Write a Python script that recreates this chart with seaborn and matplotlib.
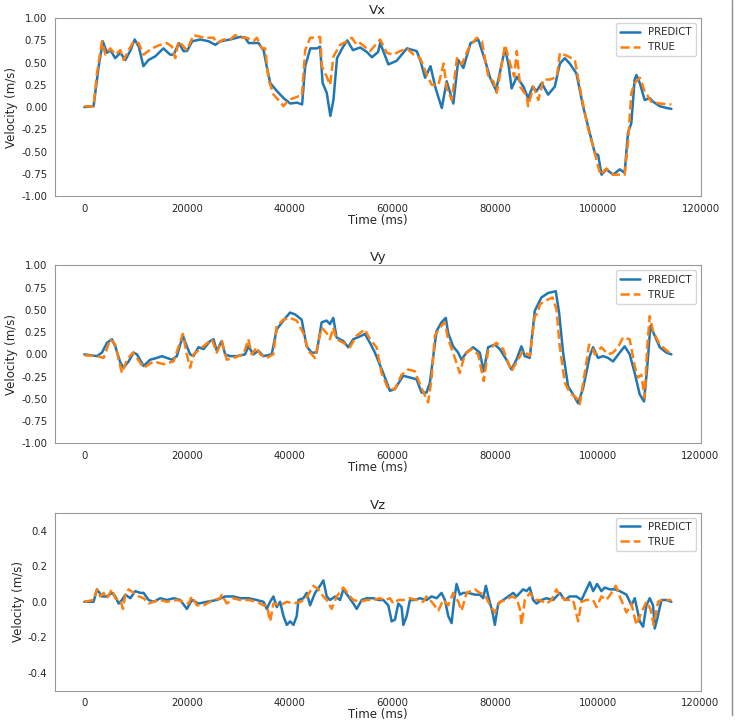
import numpy as np
import seaborn as sns
import matplotlib as mpl
mpl.use('Agg')
import matplotlib.pyplot as plt
from matplotlib.lines import Line2D

# (time in ms, velocity in m/s)
vx_pred = [(0, 0.00), (1800, 0.01), (2800, 0.46), (3600, 0.74), (4400, 0.61), (5100, 0.64), (6000, 0.55),
           (7000, 0.61), (8000, 0.53), (9000, 0.64), (9800, 0.76), (10600, 0.68), (11500, 0.46), (12500, 0.53),
           (13800, 0.57), (15400, 0.66), (16700, 0.59), (17400, 0.59), (18400, 0.72), (19300, 0.63), (20000, 0.63),
           (21000, 0.74), (22600, 0.76), (24200, 0.74), (25500, 0.70), (26500, 0.74), (28400, 0.76), (30400, 0.79),
           (31300, 0.78), (32000, 0.72), (33900, 0.72), (34900, 0.64), (35500, 0.46), (36200, 0.27), (37500, 0.18),
           (38800, 0.10), (40100, 0.04), (41400, 0.05), (42400, 0.03), (43000, 0.46), (44000, 0.66), (45300, 0.66),
           (45900, 0.68), (46400, 0.27), (47200, 0.16), (47900, -0.10), (48500, 0.08), (49200, 0.55), (50400, 0.68),
           (51200, 0.75), (52300, 0.64), (53700, 0.67), (55000, 0.62), (56000, 0.56), (57200, 0.62), (57600, 0.72),
           (59200, 0.48), (60800, 0.52), (62800, 0.66), (64700, 0.63), (65400, 0.53), (66350, 0.33), (67400, 0.46),
           (68400, 0.21), (69600, -0.01), (70550, 0.29), (71850, 0.04), (72800, 0.53), (73800, 0.44), (75200, 0.72),
           (76700, 0.76), (78000, 0.53), (79000, 0.33), (80150, 0.19), (80950, 0.40), (81900, 0.66), (82550, 0.49),
           (83200, 0.21), (84200, 0.34), (85500, 0.23), (86400, 0.10), (87300, 0.23), (88050, 0.18), (89050, 0.27),
           (90300, 0.14), (91600, 0.23), (92600, 0.49), (93550, 0.55), (94500, 0.49), (95800, 0.38), (97100, 0.01),
           (98400, -0.29), (99400, -0.52), (100050, -0.54), (100700, -0.76), (101650, -0.70), (102950, -0.76),
           (104250, -0.70), (105200, -0.74), (105850, -0.29), (106500, -0.18), (107150, 0.31), (107500, 0.36),
           (108150, 0.27), (109100, 0.08), (110100, 0.10), (110750, 0.06), (112050, 0.01), (113350, -0.01),
           (114300, -0.02)]
vx_true = [(0, 0.01), (1800, 0.01), (2460, 0.38), (3440, 0.74), (4100, 0.59), (5060, 0.66), (6030, 0.59),
           (7000, 0.64), (7650, 0.53), (8620, 0.64), (9600, 0.74), (10570, 0.72), (11540, 0.59), (13160, 0.66),
           (14790, 0.70), (16080, 0.72), (17060, 0.68), (17700, 0.55), (18350, 0.74), (19330, 0.68), (19970, 0.64),
           (21270, 0.81), (22570, 0.79), (23860, 0.78), (25160, 0.78), (25810, 0.72), (27100, 0.76), (28400, 0.76),
           (29380, 0.81), (30350, 0.78), (31650, 0.78), (32940, 0.74), (33590, 0.78), (34560, 0.66), (35210, 0.66),
           (35860, 0.31), (36830, 0.14), (37800, 0.08), (38780, 0.01), (39750, 0.08), (40730, 0.10), (41700, 0.12),
           (42350, 0.12), (43000, 0.64), (43970, 0.78), (45270, 0.78), (45910, 0.79), (46240, 0.46), (47210, 0.34),
           (47860, 0.25), (48510, 0.57), (49800, 0.70), (51100, 0.74), (52070, 0.78), (53050, 0.70), (53700, 0.72),
           (55650, 0.63), (57600, 0.76), (58900, 0.61), (60200, 0.59), (61500, 0.63), (62800, 0.66), (64100, 0.59),
           (65400, 0.55), (66700, 0.36), (67650, 0.25), (68950, 0.25), (69950, 0.49), (70550, 0.21), (71550, 0.08),
           (72550, 0.55), (73500, 0.48), (74800, 0.66), (76400, 0.78), (77400, 0.74), (78700, 0.33), (79650, 0.29),
           (80300, 0.16), (81300, 0.49), (81900, 0.70), (82900, 0.49), (83700, 0.34), (84200, 0.63), (84850, 0.23),
           (86150, 0.12), (86400, 0.01), (87450, 0.23), (88400, 0.08), (89400, 0.31), (90700, 0.31), (92000, 0.34),
           (92600, 0.61), (94200, 0.57), (95500, 0.53), (96800, 0.12), (98100, -0.25), (99050, -0.44),
           (100050, -0.67), (100500, -0.76), (101650, -0.69), (102950, -0.76), (103900, -0.76), (105200, -0.76),
           (105850, -0.40), (106500, 0.16), (107150, 0.27), (108150, 0.33), (109100, 0.18), (110400, 0.06),
           (112050, 0.04), (114300, 0.03)]

vy_pred = [(0, 0.00), (2460, -0.02), (3440, 0.02), (4410, 0.13), (5380, 0.17), (6030, 0.09), (7000, -0.09),
           (7650, -0.15), (8620, -0.08), (9600, 0.02), (10250, 0.00), (11540, -0.13), (12840, -0.06), (14140, -0.04),
           (15110, -0.02), (16080, -0.04), (17060, -0.06), (18030, -0.02), (19200, 0.21), (19970, 0.09),
           (20620, 0.00), (21270, -0.02), (22240, 0.08), (23220, 0.06), (24510, 0.15), (25160, 0.17), (25810, 0.04),
           (26780, 0.15), (27430, 0.00), (28400, -0.02), (29700, -0.02), (31320, 0.00), (31970, 0.09), (32940, 0.00),
           (33910, 0.04), (34890, -0.02), (36510, 0.00), (37480, 0.28), (38780, 0.38), (40080, 0.47), (41050, 0.45),
           (42350, 0.39), (43320, 0.09), (44290, 0.02), (45270, 0.02), (46240, 0.36), (47210, 0.38), (47860, 0.34),
           (48510, 0.41), (49150, 0.19), (50450, 0.15), (51420, 0.08), (52400, 0.17), (54020, 0.21), (54670, 0.23),
           (55650, 0.13), (56620, 0.02), (58240, -0.21), (59540, -0.41), (60510, -0.39), (62130, -0.24),
           (63430, -0.26), (64730, -0.28), (65710, -0.43), (66680, -0.43), (67330, -0.32), (68620, 0.26),
           (69590, 0.36), (70430, 0.41), (70890, 0.24), (71860, 0.09), (72840, 0.02), (73490, -0.06), (74460, 0.02),
           (75760, 0.08), (77050, 0.02), (77830, -0.19), (78680, 0.08), (79970, 0.11), (80950, 0.06), (82250, -0.06),
           (83220, -0.17), (84200, -0.06), (85170, 0.09), (85820, -0.02), (86800, -0.04), (87770, 0.49),
           (89070, 0.64), (90370, 0.69), (91860, 0.71), (92510, 0.47), (93290, 0.02), (94260, -0.36), (95240, -0.45),
           (96210, -0.55), (97190, -0.38), (98480, -0.02), (99130, 0.08), (100100, -0.04), (101080, -0.02),
           (102050, -0.04), (103020, -0.08), (104320, 0.02), (105290, 0.09), (106270, 0.00), (107240, -0.21),
           (108220, -0.45), (109060, -0.53), (109650, -0.17), (110300, 0.32), (111140, 0.21), (112120, 0.08),
           (113420, 0.02), (114390, 0.00)]
vy_true = [(0, -0.01), (2460, -0.02), (3760, -0.04), (5060, 0.17), (6030, 0.11), (6680, -0.06), (7330, -0.21),
           (8300, -0.06), (9470, 0.02), (10250, -0.04), (11540, -0.15), (13490, -0.08), (15430, -0.11),
           (17380, -0.08), (19200, 0.23), (19970, 0.00), (20620, -0.15), (21270, 0.00), (22570, 0.06), (24840, 0.17),
           (25810, 0.02), (26780, 0.15), (27750, -0.06), (29050, -0.04), (31000, 0.00), (31970, 0.17), (32620, 0.00),
           (33590, 0.08), (34240, 0.00), (35540, -0.04), (36830, 0.00), (37480, 0.32), (38780, 0.39), (40080, 0.41),
           (41370, 0.38), (42670, 0.24), (43650, 0.04), (44940, -0.04), (46240, 0.30), (47210, 0.24), (47860, 0.17),
           (48510, 0.30), (49150, 0.17), (50450, 0.13), (51750, 0.08), (53050, 0.21), (54670, 0.28), (55650, 0.17),
           (56940, 0.08), (57920, -0.21), (59220, -0.39), (60510, -0.39), (61810, -0.23), (63100, -0.17),
           (64400, -0.19), (65700, -0.38), (67000, -0.54), (67650, -0.28), (68300, 0.21), (69270, 0.30),
           (70240, 0.36), (70890, 0.17), (71860, 0.02), (73160, -0.21), (74140, 0.00), (75430, 0.06), (76730, 0.00),
           (77830, -0.30), (78680, 0.04), (80300, 0.13), (81600, 0.06), (83220, -0.19), (84200, -0.09), (85500, 0.04),
           (86800, -0.02), (87770, 0.43), (88420, 0.47), (88740, 0.56), (89720, 0.60), (91210, 0.64), (91990, 0.51),
           (92640, 0.09), (93620, -0.32), (94590, -0.43), (95890, -0.49), (96540, -0.56), (97510, -0.21),
           (98350, 0.11), (99130, 0.06), (99450, 0.00), (100750, 0.08), (102050, 0.00), (103020, 0.02),
           (104000, 0.08), (104970, 0.19), (106270, 0.17), (107240, -0.13), (107890, -0.26), (108540, -0.23),
           (109190, -0.49), (109650, 0.06), (110170, 0.43), (110820, 0.26), (112120, 0.11), (114390, 0.00)]

vz_pred = [(0, 0.00), (1800, 0.00), (2460, 0.07), (3440, 0.03), (4410, 0.03), (5380, 0.05), (6030, 0.03),
           (6680, -0.01), (7330, 0.01), (7980, 0.04), (8950, 0.02), (9920, 0.06), (10890, 0.05), (11540, 0.05),
           (12520, 0.01), (13490, 0.00), (14790, 0.02), (16080, 0.01), (17380, 0.02), (18680, 0.01), (19970, -0.04),
           (20950, 0.01), (22240, -0.01), (23860, 0.00), (25810, 0.01), (27430, 0.03), (29050, 0.03), (30350, 0.02),
           (31970, 0.02), (33590, 0.01), (34890, 0.00), (35540, -0.04), (36190, 0.00), (36830, 0.03),
           (37480, -0.03), (38130, 0.00), (38780, -0.08), (39430, -0.13), (40080, -0.11), (40730, -0.13),
           (41370, -0.08), (41700, 0.01), (42670, 0.02), (43320, 0.05), (43970, -0.02), (44940, 0.05), (45910, 0.09),
           (46560, 0.12), (47210, 0.03), (47860, 0.01), (48830, 0.03), (49800, 0.01), (50450, 0.07), (51420, 0.03),
           (52400, -0.01), (53050, -0.04), (54020, 0.01), (54990, 0.02), (56290, 0.02), (57260, 0.01),
           (58240, 0.01), (59210, -0.02), (59860, -0.11), (60510, -0.10), (61150, -0.01), (61800, -0.03),
           (62130, -0.13), (62780, -0.08), (63420, 0.01), (64400, 0.01), (65370, 0.02), (66670, 0.01),
           (67640, 0.03), (68610, 0.02), (69580, 0.05), (70230, 0.01), (70880, -0.08), (71530, -0.12),
           (71990, 0.00), (72500, 0.10), (73150, 0.04), (73800, 0.05), (74770, 0.05), (76070, 0.04), (77040, 0.04),
           (77690, 0.02), (78210, 0.09), (78860, 0.01), (79510, -0.06), (79960, -0.13), (80610, -0.01),
           (81590, 0.01), (82560, 0.03), (83530, 0.05), (84180, 0.03), (85470, 0.07), (86120, 0.06), (86770, 0.08),
           (87420, 0.01), (88070, -0.01), (89040, 0.01), (90010, 0.02), (91310, 0.01), (92610, 0.05), (93580, 0.01),
           (94550, 0.03), (95850, 0.03), (96830, 0.01), (97800, 0.07), (98450, 0.11), (99100, 0.06), (99880, 0.10),
           (100720, 0.06), (101370, 0.08), (102340, 0.07), (103320, 0.07), (104290, 0.06), (105590, 0.04),
           (106560, -0.02), (107210, 0.02), (108180, -0.11), (108830, -0.14), (109480, -0.02), (110130, 0.02),
           (110770, -0.02), (111100, -0.15), (111550, -0.10), (112400, 0.01), (113370, 0.01), (114340, 0.00)]
vz_true = [(0, 0.00), (1800, 0.01), (2460, 0.07), (3110, 0.03), (3760, 0.05), (4410, 0.02), (5380, 0.07),
           (6030, 0.02), (7000, 0.01), (7520, -0.04), (7980, 0.04), (8620, 0.07), (9600, 0.05), (10570, 0.03),
           (11540, 0.02), (12520, -0.01), (13490, 0.00), (14790, 0.01), (16080, 0.00), (18030, 0.01), (19330, 0.00),
           (20300, -0.01), (20950, 0.03), (21920, -0.02), (23220, -0.02), (25160, 0.01), (26460, 0.02),
           (26780, 0.04), (27750, -0.01), (29050, 0.02), (30350, 0.01), (31970, 0.01), (33590, 0.00),
           (34890, -0.02), (35540, -0.02), (36190, -0.11), (36830, -0.01), (38130, -0.02), (39430, 0.00),
           (40730, -0.01), (42030, 0.00), (43000, 0.01), (44620, 0.09), (45590, 0.07), (46560, 0.03), (47210, 0.01),
           (48180, -0.04), (49150, 0.03), (50450, 0.08), (51750, 0.03), (52400, 0.01), (53700, 0.00), (54990, 0.01),
           (56290, 0.01), (57590, 0.02), (58560, 0.01), (59530, 0.02), (60180, -0.01), (61150, 0.01), (62130, 0.01),
           (63420, 0.02), (64720, 0.01), (66020, 0.00), (66670, 0.03), (67640, 0.00), (68940, -0.05), (69910, 0.01),
           (70880, -0.02), (71860, 0.05), (72830, 0.00), (73480, -0.05), (74450, 0.05), (76070, 0.07),
           (77040, 0.05), (78020, 0.04), (78990, -0.02), (79960, -0.06), (80940, 0.00), (82240, 0.01),
           (83210, 0.03), (84180, 0.02), (84830, -0.04), (85150, -0.13), (85800, 0.01), (86770, 0.05),
           (87740, 0.01), (88720, 0.01), (90010, -0.01), (90990, 0.01), (91960, 0.07), (92610, 0.03), (93910, 0.01),
           (95200, 0.01), (96180, -0.11), (96830, 0.00), (97800, 0.01), (99100, 0.01), (99750, -0.03),
           (100720, 0.03), (101690, 0.01), (102670, 0.05), (103510, 0.09), (104290, 0.03), (105590, -0.06),
           (106560, -0.01), (107530, -0.13), (108500, -0.06), (109480, 0.00), (110260, -0.04), (110900, -0.13),
           (111750, 0.00), (112400, 0.01), (114340, 0.01)]

titles = ['Vx', 'Vy', 'Vz']
ylims = [(-1.0, 1.0), (-1.0, 1.0), (-0.5, 0.5)]

sns.set_style('white', {'axes.edgecolor': '0.6'})
plt.rcParams['font.family'] = ['DejaVu Sans']

fig = plt.figure(figsize=(7.38, 7.26), dpi=100)
bottoms = [0.730, 0.3894, 0.0486]
panels = [(vx_pred, vx_true), (vy_pred, vy_true), (vz_pred, vz_true)]

for i, (pred, true) in enumerate(panels):
    ax = fig.add_axes([0.0745, bottoms[i], 0.875, 0.245])
    p = np.array(pred)
    t = np.array(true)
    sns.lineplot(x=p[:, 0], y=p[:, 1], ax=ax, color='#1f77b4', lw=1.8,
                 label='PREDICT', estimator=None, sort=False)
    sns.lineplot(x=t[:, 0], y=t[:, 1], ax=ax, color='#ff7f0e', lw=1.8,
                 linestyle='--', label='TRUE', estimator=None, sort=False)
    ax.set_ylim(*ylims[i])
    ax.set_xticks(np.arange(0, 120001, 20000))
    if i < 2:
        ax.set_yticks(np.arange(-1.0, 1.01, 0.25))
        ax.yaxis.set_major_formatter(mpl.ticker.FormatStrFormatter('%.2f'))
    else:
        ax.set_yticks([-0.4, -0.2, 0.0, 0.2, 0.4])
        ax.yaxis.set_major_formatter(mpl.ticker.FormatStrFormatter('%.1f'))
    ax.tick_params(labelsize=7.3, pad=2)
    ax.set_title(titles[i], fontsize=9.5, pad=3)
    ax.set_xlabel('Time (ms)', fontsize=8.5, labelpad=0)
    ax.set_ylabel('Velocity (m/s)', fontsize=8.5, labelpad=2)
    ax.legend(loc='upper right', fontsize=7.3, frameon=True)

# thin border line at the right edge of the original screenshot
fig.add_artist(Line2D([732 / 738, 732 / 738], [0.015, 1.0], color='0.55', lw=1))

fig.savefig('out.png', dpi=100)
